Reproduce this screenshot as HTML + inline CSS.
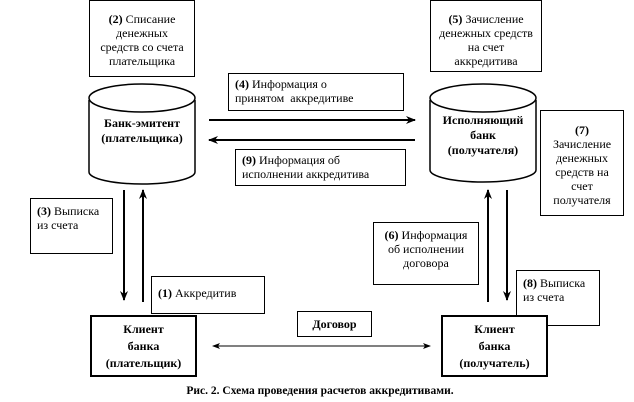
<!DOCTYPE html>
<html><head><meta charset="utf-8"><style>
body{margin:0;width:634px;height:402px;background:#fff;overflow:hidden;font-family:"Liberation Serif","Times New Roman","DejaVu Serif",serif;}
svg{position:absolute;left:0;top:0}
.b{position:absolute;border:1px solid #000;background:#fff;font-size:12px;line-height:14px;color:#000;box-sizing:border-box;font-family:"Liberation Serif","Times New Roman",serif}
.c{text-align:center}
.t{position:absolute;text-align:center;font-weight:bold;font-size:12px;line-height:15px;font-family:"Liberation Serif","Times New Roman",serif}
</style></head><body>
<svg width="634" height="402">
<defs><marker id="a" markerWidth="10" markerHeight="8" refX="9" refY="4" orient="auto" markerUnits="userSpaceOnUse"><path d="M0,0 L10,4 L0,8 L3,4z" fill="#000"/></marker>
<marker id="s" markerWidth="8" markerHeight="6" refX="7" refY="3" orient="auto-start-reverse" markerUnits="userSpaceOnUse"><path d="M0,0 L8,3 L0,6 L2,3z" fill="#000"/></marker></defs>
<g fill="#fff" stroke="#000" stroke-width="1.5">
<path d="M89,100 L89,172 A53,12 0 0 0 195,172 L195,100"/><ellipse cx="142" cy="98" rx="53" ry="14"/>
<path d="M430,100 L430,170 A53,12 0 0 0 536,170 L536,100"/><ellipse cx="483" cy="98" rx="53" ry="14"/>
</g>
<g stroke="#000" stroke-width="2" fill="none">
<line x1="209" y1="120" x2="415" y2="120" marker-end="url(#a)"/>
<line x1="415" y1="140" x2="209" y2="140" marker-end="url(#a)"/>
<line x1="124" y1="190" x2="124" y2="300" marker-end="url(#a)"/>
<line x1="143" y1="302" x2="143" y2="190" marker-end="url(#a)"/>
<line x1="488" y1="302" x2="488" y2="190" marker-end="url(#a)"/>
<line x1="507" y1="190" x2="507" y2="300" marker-end="url(#a)"/>
</g>
<line x1="213" y1="346" x2="430" y2="346" stroke="#000" stroke-width="1" marker-start="url(#s)" marker-end="url(#s)"/>
</svg>
<div class="t" style="left:89px;top:116px;width:106px">Банк-эмитент<br>(плательщика)</div>
<div class="t" style="left:430px;top:113px;width:106px">Исполняющий<br>банк<br>(получателя)</div>
<div class="b c" style="left:89px;top:0;width:106px;height:77px;padding-top:11px"><b>(2)</b> Списание<br>денежных<br>средств со счета<br>плательщика</div>
<div class="b c" style="left:430px;top:0;width:112px;height:72px;padding-top:11px"><b>(5)</b> Зачисление<br>денежных средств<br>на счет<br>аккредитива</div>
<div class="b" style="left:228px;top:73px;width:176px;height:38px;padding:3px 6px"><b>(4)</b> Информация о<br>принятом&nbsp; аккредитиве</div>
<div class="b" style="left:235px;top:149px;width:171px;height:37px;padding:3px 6px"><b>(9)</b> Информация об<br>исполнении аккредитива</div>
<div class="b c" style="left:540px;top:110px;width:84px;height:106px;padding-top:12px"><b>(7)</b><br>Зачисление<br>денежных<br>средств на<br>счет<br>получателя</div>
<div class="b" style="left:30px;top:198px;width:83px;height:56px;padding:5px 6px"><b>(3)</b> Выписка<br>из счета</div>
<div class="b" style="left:151px;top:276px;width:114px;height:38px;padding:9px 6px"><b>(1)</b> Аккредитив</div>
<div class="b c" style="left:373px;top:222px;width:106px;height:63px;padding-top:5px"><b>(6)</b> Информация<br>об исполнении<br>договора</div>
<div class="b" style="left:516px;top:270px;width:84px;height:56px;padding:5px 6px"><b>(8)</b> Выписка<br>из счета</div>
<div class="b c" style="left:297px;top:311px;width:75px;height:26px;padding-top:5px;font-weight:bold">Договор</div>
<div class="b c" style="left:90px;top:315px;width:107px;height:62px;border-width:2px;padding-top:4px;font-weight:bold;line-height:17px">Клиент<br>банка<br>(плательщик)</div>
<div class="b c" style="left:441px;top:315px;width:107px;height:62px;border-width:2px;padding-top:4px;font-weight:bold;line-height:17px">Клиент<br>банка<br>(получатель)</div>
<div class="t" style="left:0;top:384px;width:640px;font-size:11.5px">Рис. 2. Схема проведения расчетов аккредитивами.</div>
</body></html>
